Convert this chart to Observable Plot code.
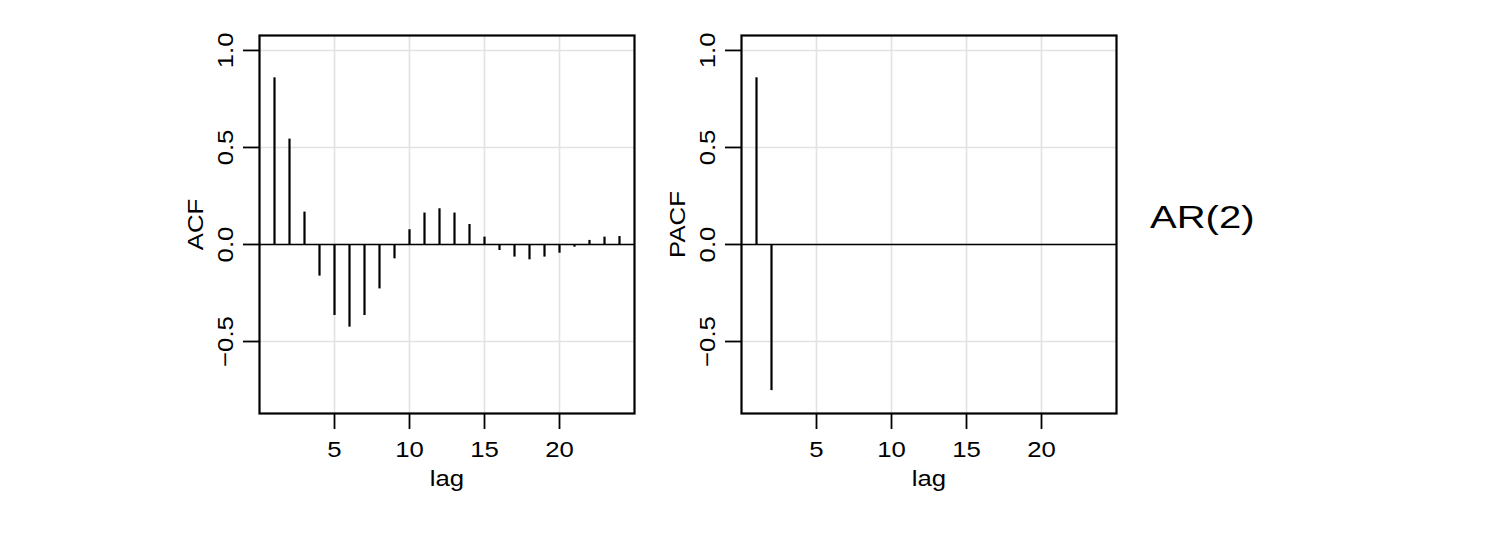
<!DOCTYPE html>
<html>
<head>
<meta charset="utf-8">
<script src="https://cdn.jsdelivr.net/npm/d3@7"></script>
<script src="https://cdn.jsdelivr.net/npm/@observablehq/plot@0.6"></script>
<style>
  html, body { margin: 0; padding: 0; background: white; }
  #wrap { position: relative; width: 1500px; height: 534px; background: white; overflow: hidden; }
  .panel { position: absolute; top: 0; }
  #title { position: absolute; left: 1150px; top: 201px; font-family: "Liberation Sans", Arial, sans-serif; font-size: 32px; line-height: 32px; color: black; white-space: nowrap; transform: scaleX(1.25); transform-origin: 0 0; }
</style>
</head>
<body>
<div id="wrap">
  <div id="left" class="panel" style="left:170px"></div>
  <div id="right" class="panel" style="left:652px"></div>
  <div id="title">AR(2)</div>
</div>
<script>
const lags = [1,2,3,4,5,6,7,8,9,10,11,12,13,14,15,16,17,18,19,20,21,22,23,24];
const acfValues = [0.859, 0.543, 0.167, -0.163, -0.366, -0.426, -0.366, -0.229, -0.074, 0.076, 0.162, 0.184, 0.162, 0.103, 0.038, -0.031, -0.065, -0.079, -0.065, -0.045, -0.014, 0.021, 0.038, 0.041];
const pacfValues = [0.859, -0.753, 0, 0, 0, 0, 0, 0, 0, 0, 0, 0, 0, 0, 0, 0, 0, 0, 0, 0, 0, 0, 0, 0];
const xTicks = [5, 10, 15, 20];
const yTicks = [-0.5, 0.0, 0.5, 1.0];
const xLabel = "lag";
const panelLabels = ["ACF", "PACF"];

const fmt = d3.format(".1f");
const font = "'Liberation Sans', Arial, sans-serif";
const stretch = 1.12;

function widen(svg) {
  // widen glyphs along the text direction, keeping each label's anchor in place
  d3.select(svg).selectAll("text").each(function() {
    const t = this.getAttribute("transform");
    if (t && t.includes("rotate")) {
      this.setAttribute("transform", t + ` scale(${stretch},1)`);
    } else {
      const x = +(this.getAttribute("x") || 0);
      const base = t ? t + " " : "";
      this.setAttribute("transform", base + `translate(${x * (1 - stretch)},0) scale(${stretch},1)`);
    }
  });
  return svg;
}

function panel(values, ylabel) {
  const data = lags.map((lag, i) => ({lag, value: values[i]}));
  const svg = Plot.plot({
    width: 480,
    height: 534,
    marginLeft: 89,
    marginRight: 16,
    marginTop: 35,
    marginBottom: 121,
    x: {domain: [0, 25]},
    y: {domain: [-0.871, 1.077]},
    style: {fontFamily: font, fontSize: "23px", background: "white", color: "black", overflow: "visible"},
    marks: [
      Plot.gridX(xTicks, {stroke: "#e2e2e2", strokeOpacity: 1, strokeWidth: 1.6}),
      Plot.gridY(yTicks, {stroke: "#e2e2e2", strokeOpacity: 1, strokeWidth: 1.6}),
      Plot.ruleY([0], {stroke: "black", strokeWidth: 1.7}),
      Plot.ruleX(data, {x: "lag", y1: 0, y2: "value", stroke: "black", strokeWidth: 2.2}),
      Plot.frame({stroke: "black", strokeWidth: 2.2}),
      Plot.axisX(xTicks, {tickSize: 16, tickPadding: 11, fontSize: 23, stroke: "black", strokeWidth: 1.8, label: null}),
      Plot.axisY(yTicks, {tickSize: 16, tickFormat: () => "", stroke: "black", strokeWidth: 1.8, label: null}),
      Plot.text(yTicks, {y: d => d, text: d => fmt(d), frameAnchor: "left", textAnchor: "middle", lineAnchor: "middle", dx: -34, rotate: -90, fontSize: 23, fill: "black"}),
      Plot.text([ylabel], {text: d => d, frameAnchor: "left", textAnchor: "middle", lineAnchor: "middle", dx: -64, rotate: -90, fontSize: 23, fill: "black"}),
      Plot.text([xLabel], {text: d => d, frameAnchor: "bottom", lineAnchor: "top", dy: 56, fontSize: 23, fill: "black"})
    ]
  });
  return widen(svg);
}

document.getElementById("left").append(panel(acfValues, panelLabels[0]));
document.getElementById("right").append(panel(pacfValues, panelLabels[1]));
</script>
</body>
</html>
